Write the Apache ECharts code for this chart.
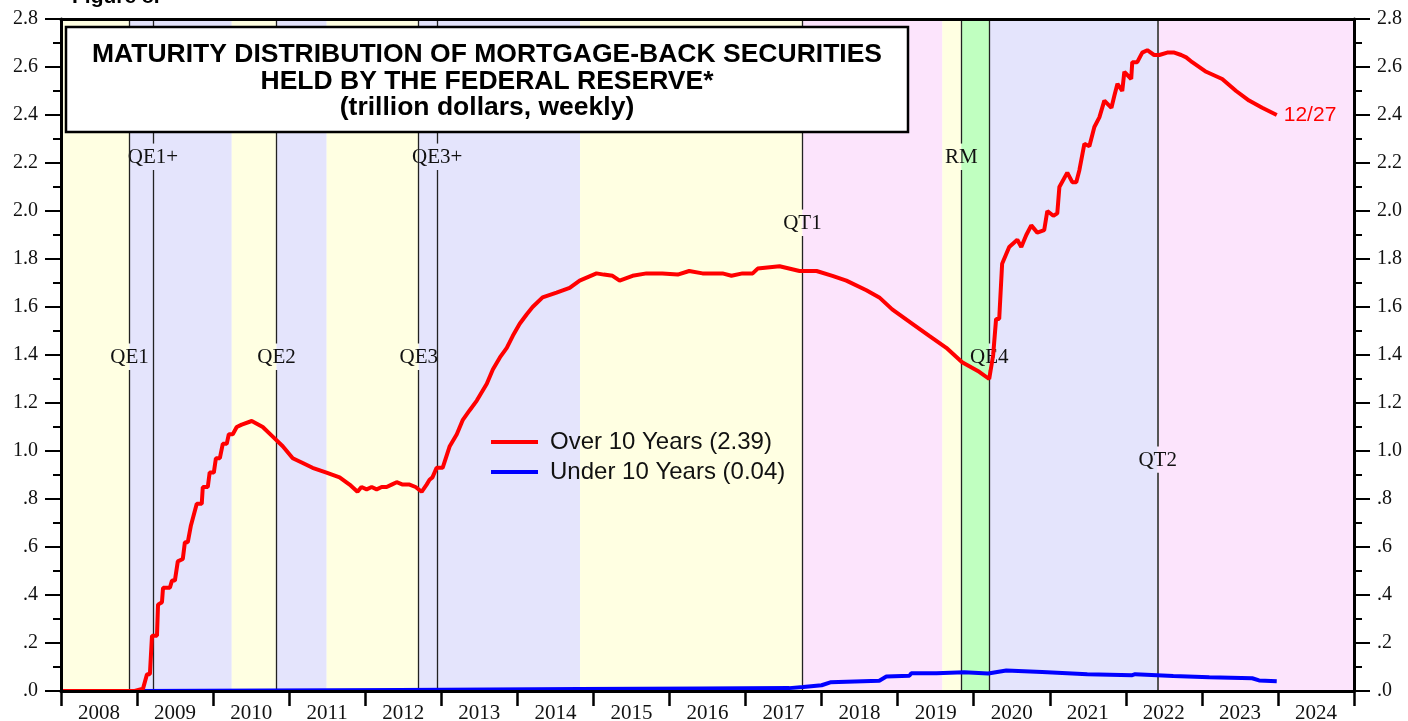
<!DOCTYPE html>
<html>
<head>
<meta charset="utf-8">
<script src="https://cdn.jsdelivr.net/npm/echarts@6/dist/echarts.min.js"></script>
<style>
  html, body { margin: 0; padding: 0; background: #fff; }
  #chart { width: 1408px; height: 721px; }
</style>
</head>
<body>
<div id="chart"></div>
<script>
// x axis labels
const years = ['2008','2009','2010','2011','2012','2013','2014','2015','2016','2017','2018','2019','2020','2021','2022','2023','2024'];

// over 10 years (trillion $)
const overDates = ['2008-01-01','2008-12-20','2009-01-29','2009-02-17','2009-03-03','2009-03-13','2009-04-06','2009-04-11','2009-04-30','2009-05-05',
  '2009-06-07','2009-06-17','2009-07-01','2009-07-15','2009-08-08','2009-08-18','2009-09-01','2009-09-16','2009-09-25','2009-10-14',
  '2009-11-07','2009-11-12','2009-12-06','2009-12-15','2010-01-04','2010-01-14','2010-02-02','2010-02-16','2010-03-07','2010-03-17',
  '2010-04-05','2010-04-24','2010-05-18','2010-07-05','2010-08-27','2010-10-14','2010-12-01','2011-01-18','2011-03-07','2011-04-23',
  '2011-06-29','2011-08-31','2011-10-18','2011-11-25','2011-12-14','2012-01-08','2012-02-01','2012-02-25','2012-03-20','2012-04-13',
  '2012-05-07','2012-05-31','2012-06-29','2012-08-01','2012-08-30','2012-09-28','2012-10-22','2012-11-05','2012-11-19','2012-12-09',
  '2013-01-07','2013-02-10','2013-03-16','2013-04-14','2013-05-17','2013-06-20','2013-08-07','2013-09-05','2013-10-09','2013-11-11',
  '2013-12-10','2014-01-12','2014-02-15','2014-03-15','2014-05-02','2014-07-08','2014-09-09','2014-10-27','2015-01-16','2015-02-20',
  '2015-04-03','2015-05-07','2015-07-08','2015-09-13','2015-11-28','2016-02-10','2016-04-05','2016-06-08','2016-09-12','2016-10-25',
  '2016-12-17','2017-02-04','2017-02-28','2017-06-13','2017-09-17','2017-12-08','2018-02-22','2018-04-30','2018-08-04','2018-10-05',
  '2018-12-06','2019-03-13','2019-06-02','2019-08-23','2019-11-07','2020-01-28','2020-03-16','2020-04-04','2020-04-18','2020-05-03',
  '2020-05-17','2020-06-20','2020-07-29','2020-08-17','2020-09-10','2020-10-04','2020-11-02','2020-12-05','2020-12-20','2021-01-18',
  '2021-02-06','2021-02-16','2021-03-26','2021-04-19','2021-05-08','2021-05-23','2021-06-16','2021-07-10','2021-08-03','2021-08-27',
  '2021-09-20','2021-10-24','2021-11-07','2021-11-22','2021-12-15','2021-12-25','2022-01-27','2022-02-01','2022-02-25','2022-03-21',
  '2022-04-14','2022-05-17','2022-06-11','2022-07-19','2022-08-22','2022-09-24','2022-10-18','2022-11-16','2023-01-22','2023-04-09',
  '2023-06-15','2023-08-16','2023-10-18','2023-12-27'];
const overVals = [0,0,0.01,0.07,0.07,0.23,0.23,0.36,0.37,0.43,
  0.43,0.46,0.46,0.54,0.55,0.62,0.62,0.69,0.69,0.78,
  0.78,0.85,0.85,0.91,0.91,0.97,0.97,1.03,1.03,1.07,
  1.07,1.10,1.11,1.125,1.10,1.06,1.02,0.97,0.95,0.93,
  0.91,0.89,0.86,0.83,0.85,0.84,0.85,0.84,0.85,0.85,
  0.86,0.87,0.86,0.86,0.85,0.83,0.86,0.88,0.89,0.93,
  0.93,1.02,1.07,1.13,1.17,1.21,1.28,1.34,1.39,1.43,
  1.48,1.53,1.57,1.60,1.64,1.66,1.68,1.71,1.74,1.735,
  1.73,1.71,1.73,1.74,1.74,1.735,1.75,1.74,1.74,1.73,
  1.74,1.74,1.76,1.77,1.75,1.75,1.73,1.71,1.67,1.64,
  1.59,1.53,1.48,1.43,1.37,1.33,1.30,1.40,1.55,1.55,
  1.78,1.85,1.88,1.85,1.90,1.94,1.91,1.92,2.00,1.98,
  1.99,2.10,2.16,2.12,2.12,2.17,2.28,2.27,2.35,2.39,
  2.46,2.43,2.48,2.53,2.50,2.58,2.55,2.62,2.62,2.66,
  2.67,2.65,2.65,2.66,2.66,2.65,2.64,2.62,2.58,2.55,
  2.50,2.46,2.43,2.40];

// under 10 years (trillion $)
const underDates = ['2009-01-05','2012-06-14','2014-10-27','2016-05-26','2017-07-30','2017-10-05','2018-01-01','2018-02-12','2018-10-05','2018-11-08',
  '2019-02-27','2019-03-08','2019-07-06','2019-07-15','2019-11-17','2020-03-11','2020-06-06','2020-11-25','2021-06-30','2022-02-01',
  '2022-02-15','2022-08-17','2023-02-06','2023-08-31','2023-10-03','2023-12-27'];
const underVals = [0,0.004,0.008,0.010,0.012,0.017,0.024,0.036,0.043,0.060,
  0.064,0.074,0.074,0.080,0.078,0.073,0.085,0.079,0.070,0.066,
  0.070,0.063,0.057,0.053,0.044,0.041];

// policy regimes shaded in the background
const bandStarts = ['2008-01-01','2008-11-25','2010-03-31','2010-11-01','2011-06-30','2012-09-14','2014-10-29','2017-10-01','2019-08-04','2019-11-03','2020-03-16','2022-06-03'];
const bandEnds   = ['2008-11-25','2010-03-31','2010-11-01','2011-06-30','2012-09-14','2014-10-29','2017-10-01','2019-08-04','2019-11-03','2020-03-16','2022-06-03','2025-01-01'];
const bandKinds  = ['hold','buy','hold','buy','hold','buy','hold','run','hold','repo','buy','run'];

// event markers
const eventNames  = ['QE1','QE1+','QE2','QE3','QE3+','QT1','RM','QE4','QT2'];
const eventDates  = ['2008-11-25','2009-03-18','2010-11-01','2012-09-14','2012-12-12','2017-10-01','2019-11-03','2020-03-16','2022-06-03'];
const eventLevels = [1.388, 2.221, 1.388, 1.388, 2.221, 1.946, 2.221, 1.388, 0.959];

const t = s => { const p = s.split('-').map(Number); return new Date(p[0], p[1] - 1, p[2]).getTime(); };

const bandColors = { hold: '#ffffe2', buy: '#e4e4fc', run: '#fce4fc', repo: '#c0ffc0' };
const serif = 'Liberation Serif';
const sans = 'Liberation Sans';

const yLabel = v => (v === 0 ? '.0' : v < 1 ? '.' + Math.round(v * 10) : v.toFixed(1));

const markSegs = [];
eventDates.forEach((d, i) => {
  const x = t(d);
  const st = { type: 'solid', color: i === 8 ? '#555' : '#222', width: i === 8 ? 2 : 1.3 };
  markSegs.push([{ coord: [x, 0], lineStyle: st }, { coord: [x, eventLevels[i] - 0.05] }]);
  markSegs.push([{ coord: [x, eventLevels[i] + 0.06], lineStyle: st }, { coord: [x, 2.8] }]);
});

const chart = echarts.init(document.getElementById('chart'));
chart.setOption({
  animation: false,
  backgroundColor: '#fff',
  grid: { left: 61, right: 54, top: 19, bottom: 30, outerBoundsMode: 'none', containLabel: false },
  legend: {
    data: ['Over 10 Years (2.39)', 'Under 10 Years (0.04)'],
    orient: 'vertical', left: 486, top: 425,
    icon: 'rect', itemWidth: 47, itemHeight: 4, itemGap: 6,
    textStyle: { fontFamily: sans, fontSize: 24, color: '#111', padding: [0, 0, 0, 7] }
  },
  xAxis: [
    { type: 'time', min: t('2008-01-01'), max: t('2025-01-01'), show: false },
    {
      type: 'category', data: years, position: 'bottom', boundaryGap: true, z: 10,
      axisLine: { lineStyle: { color: '#000', width: 3 } },
      axisTick: { show: true, interval: 0, length: 15, lineStyle: { color: '#000', width: 2.5 } },
      axisLabel: { interval: 0, margin: 12, fontFamily: serif, fontSize: 21, color: '#111' }
    },
    {
      type: 'category', data: years, position: 'top', z: 10,
      axisLine: { lineStyle: { color: '#000', width: 3 } },
      axisTick: { show: false }, axisLabel: { show: false }
    }
  ],
  yAxis: [0, 1].map(i => ({
    type: 'value', min: 0, max: 2.8, interval: 0.2, position: i ? 'right' : 'left', z: 10,
    axisLine: { show: true, lineStyle: { color: '#000', width: 3 } },
    axisTick: { show: true, length: 16, lineStyle: { color: '#000', width: 2 } },
    minorTick: { show: true, splitNumber: 2, length: 8, lineStyle: { color: '#000', width: 2 } },
    splitLine: { show: false },
    axisLabel: { margin: 23, fontFamily: serif, fontSize: 20, color: '#111', formatter: yLabel }
  })),
  series: [
    {
      name: 'bands', type: 'line', data: [], z: 1, silent: true,
      markArea: {
        silent: true,
        data: bandStarts.map((s, i) => [
          { xAxis: t(s), itemStyle: { color: bandColors[bandKinds[i]] } },
          { xAxis: t(bandEnds[i]) }
        ])
      }
    },
    {
      name: 'events', type: 'line', data: [], z: 2, silent: true,
      markLine: { silent: true, symbol: ['none', 'none'], label: { show: false }, data: markSegs }
    },
    {
      name: 'eventLabels', type: 'scatter', z: 3, silent: true, symbolSize: 0,
      itemStyle: { color: '#111', opacity: 1 },
      data: eventNames.map((n, i) => [t(eventDates[i]), eventLevels[i], n]),
      label: { show: true, position: 'inside', formatter: p => p.value[2], fontFamily: serif, fontSize: 21, color: '#111' }
    },
    {
      name: 'Under 10 Years (0.04)', type: 'line', symbol: 'none', z: 5,
      data: underDates.map((d, i) => [t(d), underVals[i]]),
      itemStyle: { color: '#0000ff' }, lineStyle: { color: '#0000ff', width: 4 }
    },
    {
      name: 'Over 10 Years (2.39)', type: 'line', symbol: 'none', z: 6,
      data: overDates.map((d, i) => [t(d), overVals[i]]),
      itemStyle: { color: '#ff0000' }, lineStyle: { color: '#ff0000', width: 4 },
      endLabel: { show: true, formatter: '12/27', color: '#ff0000', fontFamily: sans, fontSize: 21, distance: 7 }
    }
  ],
  graphic: [
    { type: 'text', left: 72, top: -13, z: 100, style: { text: 'Figure 8.', font: 'bold 21px "Liberation Sans"', fill: '#000' } },
    { type: 'rect', z: 100, shape: { x: 66, y: 27, width: 842, height: 105 }, style: { fill: '#fff', stroke: '#000', lineWidth: 2.5 } },
    { type: 'text', z: 101, x: 487, y: 54.5, style: { text: 'MATURITY DISTRIBUTION OF MORTGAGE-BACK SECURITIES', font: 'bold 26.5px "Liberation Sans"', fill: '#000', align: 'center', verticalAlign: 'middle' } },
    { type: 'text', z: 101, x: 487, y: 81.5, style: { text: 'HELD BY THE FEDERAL RESERVE*', font: 'bold 26.5px "Liberation Sans"', fill: '#000', align: 'center', verticalAlign: 'middle' } },
    { type: 'text', z: 101, x: 487, y: 107.5, style: { text: '(trillion dollars, weekly)', font: 'bold 26.5px "Liberation Sans"', fill: '#000', align: 'center', verticalAlign: 'middle' } }
  ]
});
</script>
</body>
</html>
